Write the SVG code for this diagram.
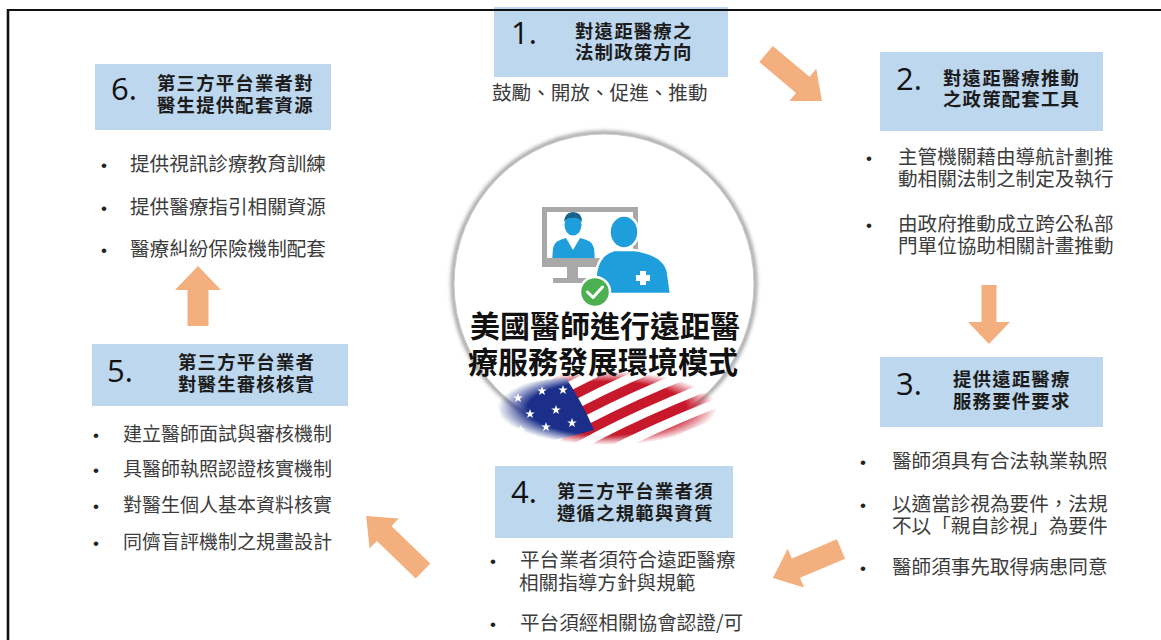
<svg xmlns="http://www.w3.org/2000/svg" width="1161" height="640" viewBox="0 0 1161 640">
  <style>
    .box { fill: #BDD7EE; }
    .num { font-family: "Open Sans", "Noto Sans", sans-serif; font-size: 31px; font-weight: 500; fill: #111; }
    .ttl { font-family: "Noto Sans CJK TC", "Noto Sans CJK SC", sans-serif; font-size: 18.4px; font-weight: 700; fill: #1c1c1c; letter-spacing: 1.2px; }
    .txt { font-family: "Noto Sans CJK TC", "Noto Sans CJK SC", sans-serif; font-size: 19.6px; fill: #3c3c3c; }
    .sm { font-size: 19px; }
    .dot { font-family: "Liberation Sans", sans-serif; font-size: 17px; fill: #222; }
    .arrow { fill: #F4AF7F; }
    .head { font-family: "Noto Sans CJK TC", "Noto Sans CJK SC", sans-serif; font-size: 30px; font-weight: 700; fill: #111; }
  </style>
  <defs>
    <filter id="blur" x="-20%" y="-20%" width="140%" height="140%">
      <feGaussianBlur stdDeviation="2.2"/>
    </filter>
    <radialGradient id="flagFade" cx="0.5" cy="0.5" r="0.5">
      <stop offset="0" stop-color="#fff"/>
      <stop offset="0.72" stop-color="#fff"/>
      <stop offset="1" stop-color="#000"/>
    </radialGradient>
    <mask id="flagMask" maskUnits="userSpaceOnUse" x="490" y="365" width="240" height="90">
      <ellipse cx="607" cy="408" rx="110" ry="37" fill="url(#flagFade)"/>
    </mask>
    <path id="star" d="M0,-5 L1.18,-1.62 L4.76,-1.55 L1.9,0.62 L2.94,4.05 L0,2 L-2.94,4.05 L-1.9,0.62 L-4.76,-1.55 L-1.18,-1.62 Z" fill="#fff"/>
    <clipPath id="screen">
      <rect x="547" y="212" width="86" height="46"/>
    </clipPath>
  </defs>

  <rect x="0" y="0" width="1161" height="640" fill="#fff"/>

  <!-- centre emblem -->
  <g id="center">
    <circle cx="604" cy="284" r="151" fill="none" stroke="#6f6f6f" stroke-width="3" filter="url(#blur)"/>
    <circle cx="604" cy="284" r="150" fill="#fff" stroke="#c8c8c8" stroke-width="1"/>
    <!-- monitor -->
    <rect x="542" y="207" width="96" height="60" fill="#A8A8A8"/>
    <rect x="547" y="212" width="86" height="46" fill="#fff"/>
    <rect x="567" y="267" width="11" height="12" fill="#A8A8A8"/>
    <rect x="553" y="278" width="42" height="5" fill="#A8A8A8"/>
    <!-- remote doctor on screen -->
    <g clip-path="url(#screen)" fill="#1E9FDB">
      <path d="M552,262 L553,248 Q555,240 566,238 L573,250 L580,238 Q592,240 594,248 L595,262 Z"/>
      <ellipse cx="573" cy="225" rx="8.5" ry="10.5"/>
      <path d="M564,222 Q565,212 573,212 Q582,212 582,222 Q578,217 573,218 Q568,217 564,222 Z" fill="#17638a"/>
    </g>
    <!-- patient with cross -->
    <g fill="#1E9FDB" stroke="#fff" stroke-width="2.5">
      <path d="M594,294 L596,272 Q599,254 614,250 L634,250 Q664,254 668,272 L671,294 Z"/>
      <ellipse cx="624" cy="232" rx="14.5" ry="16.5"/>
    </g>
    <rect x="640" y="271" width="6" height="14" fill="#fff"/>
    <rect x="636" y="275" width="14" height="6" fill="#fff"/>
    <!-- check badge -->
    <circle cx="595" cy="292" r="15" fill="#4CAF50" stroke="#fff" stroke-width="2.5"/>
    <path d="M587.5,292 L593,297.5 L602.5,287" fill="none" stroke="#fff" stroke-width="3" stroke-linecap="round" stroke-linejoin="round"/>
    <!-- waving flag -->
    <g mask="url(#flagMask)">
      <rect x="490" y="365" width="240" height="90" fill="#fff"/>
      <g transform="rotate(-27 610 410)" fill="#C8182C">
        <path d="M520,360 Q600,350 700,364 L700,374 Q600,360 520,370 Z"/>
        <path d="M520,379 Q600,369 720,383 L720,393 Q600,379 520,389 Z"/>
        <path d="M520,398 Q600,388 730,402 L730,412 Q600,398 520,408 Z"/>
        <path d="M520,417 Q600,407 730,421 L730,431 Q600,417 520,427 Z"/>
        <path d="M520,436 Q600,426 730,440 L730,450 Q600,436 520,446 Z"/>
        <path d="M520,455 Q600,445 730,459 L730,469 Q600,455 520,465 Z"/>
      </g>
      <path d="M494,390 Q530,380 566,378 Q582,402 594,430 Q560,440 512,448 Q500,418 494,390 Z" fill="#1B2F8A"/>
      <use href="#star" x="518" y="398"/>
      <use href="#star" x="542" y="391"/>
      <use href="#star" x="563" y="390"/>
      <use href="#star" x="530" y="414"/>
      <use href="#star" x="556" y="410"/>
      <use href="#star" x="521" y="430"/>
      <use href="#star" x="546" y="427"/>
      <use href="#star" x="572" y="423"/>
    </g>
    <text class="head" text-anchor="middle"><tspan x="605" y="337">美國醫師進行遠距醫</tspan><tspan x="603" y="373">療服務發展環境模式</tspan></text>
  </g>

  <!-- step 1 -->
  <g id="step1">
    <rect class="box" x="494" y="7" width="234" height="70"/>
    <text class="num" x="511" y="44">1.</text>
    <text class="ttl"><tspan x="575" y="38">對遠距醫療之</tspan><tspan x="575" y="59">法制政策方向</tspan></text>
    <text class="txt" x="492" y="100">鼓勵、開放、促進、推動</text>
  </g>

  <!-- step 2 -->
  <g id="step2">
    <rect class="box" x="880" y="52" width="223" height="79"/>
    <text class="num" x="896" y="90">2.</text>
    <text class="ttl"><tspan x="943" y="85">對遠距醫療推動</tspan><tspan x="943" y="106">之政策配套工具</tspan></text>
    <text class="dot" x="866" y="164">•</text>
    <text class="txt"><tspan x="898" y="164">主管機關藉由導航計劃推</tspan><tspan x="898" y="186">動相關法制之制定及執行</tspan></text>
    <text class="dot" x="866" y="231">•</text>
    <text class="txt"><tspan x="898" y="231">由政府推動成立跨公私部</tspan><tspan x="898" y="253">門單位協助相關計畫推動</tspan></text>
  </g>

  <!-- step 3 -->
  <g id="step3">
    <rect class="box" x="880" y="357" width="223" height="70"/>
    <text class="num" x="896" y="395">3.</text>
    <text class="ttl"><tspan x="953" y="386">提供遠距醫療</tspan><tspan x="953" y="408">服務要件要求</tspan></text>
    <text class="dot" x="860" y="468">•</text>
    <text class="txt" x="892" y="468">醫師須具有合法執業執照</text>
    <text class="dot" x="860" y="511">•</text>
    <text class="txt"><tspan x="892" y="511">以適當診視為要件，法規</tspan><tspan x="892" y="533">不以「親自診視」為要件</tspan></text>
    <text class="dot" x="860" y="574">•</text>
    <text class="txt" x="892" y="574">醫師須事先取得病患同意</text>
  </g>

  <!-- step 4 -->
  <g id="step4">
    <rect class="box" x="495" y="466" width="238" height="72"/>
    <text class="num" x="511" y="503">4.</text>
    <text class="ttl"><tspan x="557" y="498">第三方平台業者須</tspan><tspan x="557" y="520">遵循之規範與資質</tspan></text>
    <text class="dot" x="490" y="567">•</text>
    <text class="txt"><tspan x="520" y="567">平台業者須符合遠距醫療</tspan><tspan x="519" y="590">相關指導方針與規範</tspan></text>
    <text class="dot" x="490" y="630">•</text>
    <text class="txt" x="520" y="630">平台須經相關協會認證/可</text>
  </g>

  <!-- step 5 -->
  <g id="step5">
    <rect class="box" x="92" y="344" width="256" height="62"/>
    <text class="num" x="107" y="382">5.</text>
    <text class="ttl"><tspan x="178" y="369">第三方平台業者</tspan><tspan x="178" y="391">對醫生審核核實</tspan></text>
    <text class="dot" x="93" y="441">•</text>
    <text class="txt sm" x="123" y="441">建立醫師面試與審核機制</text>
    <text class="dot" x="93" y="476">•</text>
    <text class="txt sm" x="123" y="476">具醫師執照認證核實機制</text>
    <text class="dot" x="93" y="512">•</text>
    <text class="txt sm" x="123" y="512">對醫生個人基本資料核實</text>
    <text class="dot" x="93" y="549">•</text>
    <text class="txt sm" x="123" y="549">同儕盲評機制之規畫設計</text>
  </g>

  <!-- step 6 -->
  <g id="step6">
    <rect class="box" x="95" y="64" width="236" height="66"/>
    <text class="num" x="111" y="100">6.</text>
    <text class="ttl"><tspan x="157" y="90">第三方平台業者對</tspan><tspan x="157" y="112">醫生提供配套資源</tspan></text>
    <text class="dot" x="101" y="171">•</text>
    <text class="txt" x="130" y="171">提供視訊診療教育訓練</text>
    <text class="dot" x="101" y="214">•</text>
    <text class="txt" x="130" y="214">提供醫療指引相關資源</text>
    <text class="dot" x="101" y="256">•</text>
    <text class="txt" x="130" y="256">醫療糾紛保險機制配套</text>
  </g>

  <!-- flow arrows between steps -->
  <g id="connectors">
    <polygon class="arrow" transform="translate(766,54) rotate(40)" points="0,-10.5 48,-10.5 48,-21 73,0 48,21 48,10.5 0,10.5"/>
    <polygon class="arrow" points="981.5,285 996.5,285 996.5,322 1010,322 989,344 968,322 981.5,322"/>
    <polygon class="arrow" transform="translate(841,549) rotate(157)" points="0,-10.5 49,-10.5 49,-21 74,0 49,21 49,10.5 0,10.5"/>
    <polygon class="arrow" transform="translate(423,571) rotate(-136)" points="0,-10.5 54,-10.5 54,-21 79,0 54,21 54,10.5 0,10.5"/>
    <polygon class="arrow" points="187.5,326 208.5,326 208.5,290 221,290 198,266 175,290 187.5,290"/>
  </g>

  <!-- frame -->
  <g id="frame" stroke="#111" fill="none">
    <line x1="7" y1="10" x2="1161" y2="10" stroke-width="2"/>
    <line x1="8" y1="9" x2="8" y2="640" stroke-width="2.6"/>
  </g>
</svg>
